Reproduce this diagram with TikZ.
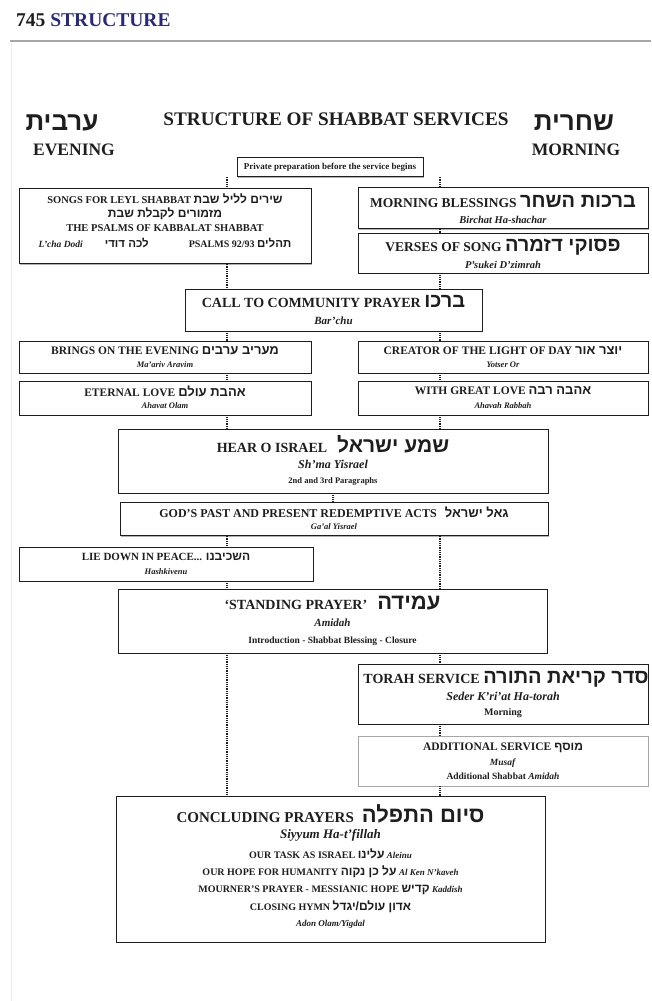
\documentclass[tikz,border=0pt]{standalone}
\usepackage{fontspec}
\setmainfont{Liberation Serif}
\newfontfamily\hebfont[Script=Hebrew]{Liberation Sans}
\usetikzlibrary{shadows}
\TeXXeTstate=1
\definecolor{navy}{RGB}{40,40,125}
\definecolor{ink}{RGB}{30,30,30}
\newcommand{\fsz}[1]{\fontsize{#1}{#1}\selectfont}
\newcommand{\hebtxt}[2][13]{{\fontsize{#1}{#1}\hebfont\bfseries\beginR #2\endR}}
\begin{document}
\begin{tikzpicture}[x=1pt,y=-1pt,
	every node/.style={font=\bfseries,text=ink,inner sep=0pt},
	box/.style={draw=ink,line width=0.7pt,fill=white,
		drop shadow={shadow xshift=1.3pt,shadow yshift=-1.3pt,fill=gray!60,opacity=1}},
	link/.style={draw=ink,line width=2.4pt,dash pattern=on 1pt off 0.8pt}]
	\useasboundingbox (0,0) rectangle (651,1001);
	% page head
	\node[anchor=west] at (16,20) (pagehead) {\fsz{19.5}745 \textcolor{navy}{STRUCTURE}};
	\draw[gray!70,line width=2.5pt] (10,41) -- (651,41);
	\draw[gray!15,line width=0.8pt] (11,43) -- (11,1001);
	% headings
	\node at (62,123) (arvit) {\hebtxt[26]{ערבית}};
	\node at (74,150) (evening) {\fsz{17.5}EVENING};
	\node at (336,119) (title) {\fsz{19.2}STRUCTURE OF SHABBAT SERVICES};
	\node at (574,123) (shacharit) {\hebtxt[26]{שחרית}};
	\node at (576,150) (morning) {\fsz{17.5}MORNING};
	\coordinate (L) at (227,0);
	\coordinate (R) at (440,0);
	\coordinate (M) at (333,0);
	\node[box,minimum width=186pt,minimum height=19pt] at (330,167) (prep) {\fsz{9}Private preparation before the service begins};
	% evening column
	\node[box,minimum width=292pt,minimum height=75pt] at (165,226) (songs) {};
	\node at (165,199) (songs1) {\fsz{10.5}SONGS FOR LEYL SHABBAT \hebtxt[12]{שירים לליל שבת}};
	\node at (165,214) (songs2) {\hebtxt[12]{מזמורים לקבלת שבת}};
	\node at (165,228) (songs3) {\fsz{10.5}THE PSALMS OF KABBALAT SHABBAT};
	\node at (165,243) (songs4) {{\fsz{9.5}\textit{L'cha Dodi}}\hspace{22pt}\hebtxt[11.5]{לכה דודי}\hspace{40pt}{\fsz{10}PSALMS 92/93} \hebtxt[11.5]{תהלים}};
	% morning column
	\node[box,minimum width=290pt,minimum height=41pt] at (503,208) (blessings) {};
	\node at (503,202) (blessings1) {\fsz{13.5}MORNING BLESSINGS \hebtxt[20]{ברכות השחר}};
	\node at (503,220) (blessings2) {\fsz{10.5}\textit{Birchat Ha-shachar}};
	\node[box,minimum width=290pt,minimum height=40pt] at (503,253) (verses) {};
	\node at (503,247) (verses1) {\fsz{13.5}VERSES OF SONG \hebtxt[20]{פסוקי דזמרה}};
	\node at (503,265) (verses2) {\fsz{10.5}\textit{P'sukei D'zimrah}};
	% both
	\node[box,minimum width=297pt,minimum height=42pt] at (333.5,310) (call) {};
	\node at (333.5,302) (call1) {\fsz{14}CALL TO COMMUNITY PRAYER \hebtxt[20]{ברכו}};
	\node at (333.5,321) (call2) {\fsz{11}\textit{Bar'chu}};
	\node[box,minimum width=292pt,minimum height=32pt] at (165,357) (brings) {};
	\node at (165,351) (brings1) {\fsz{11.5}BRINGS ON THE EVENING \hebtxt{מעריב ערבים}};
	\node at (165,365) (brings2) {\fsz{8.5}\textit{Ma'ariv Aravim}};
	\node[box,minimum width=290pt,minimum height=32pt] at (503,357) (creator) {};
	\node at (503,351) (creator1) {\fsz{11.5}CREATOR OF THE LIGHT OF DAY \hebtxt{יוצר אור}};
	\node at (503,365) (creator2) {\fsz{8.5}\textit{Yotser Or}};
	\node[box,minimum width=292pt,minimum height=34pt] at (165,398) (eternal) {};
	\node at (165,391) (eternal1) {\fsz{11.5}ETERNAL LOVE \hebtxt{אהבת עולם}};
	\node at (165,406) (eternal2) {\fsz{8.5}\textit{Ahavat Olam}};
	\node[box,minimum width=290pt,minimum height=34pt] at (503,398) (greatlove) {};
	\node at (503,391) (greatlove1) {\fsz{11.5}WITH GREAT LOVE \hebtxt{אהבה רבה}};
	\node at (503,406) (greatlove2) {\fsz{8.5}\textit{Ahavah Rabbah}};
	\node[box,minimum width=430pt,minimum height=64pt] at (333,461) (hear) {};
	\node at (333,444) (hear1) {\fsz{14}HEAR O ISRAEL\hspace{10pt}\hebtxt[21]{שמע ישראל}};
	\node at (333,464) (hear2) {\fsz{12}\textit{Sh'ma Yisrael}};
	\node at (333,481) (hear3) {\fsz{8.5}2nd and 3rd Paragraphs};
	\node[box,minimum width=428pt,minimum height=33pt] at (334,519) (godsacts) {};
	\node at (334,512) (godsacts1) {\fsz{12}GOD'S PAST AND PRESENT REDEMPTIVE ACTS\hspace{8pt}\hebtxt{גאל ישראל}};
	\node at (334,527) (godsacts2) {\fsz{8.5}\textit{Ga'al Yisrael}};
	\node[box,minimum width=294pt,minimum height=34pt] at (166,564) (liedown) {};
	\node at (166,557) (liedown1) {\fsz{11}LIE DOWN IN PEACE... \hebtxt[12]{השכיבנו}};
	\node at (166,572) (liedown2) {\fsz{8.5}\textit{Hashkivenu}};
	\node[box,minimum width=429pt,minimum height=64pt] at (332.5,621) (standing) {};
	\node at (332.5,603) (standing1) {\fsz{14}`STANDING PRAYER'\hspace{10pt}\hebtxt[22]{עמידה}};
	\node at (332.5,623) (standing2) {\fsz{11}\textit{Amidah}};
	\node at (332.5,641) (standing3) {\fsz{9.5}Introduction - Shabbat Blessing - Closure};
	% morning only
	\node[box,minimum width=290pt,minimum height=60pt] at (503,694) (torah) {};
	\node at (506,679) (torah1) {\fsz{14}TORAH SERVICE \hebtxt[20]{סדר קריאת התורה}};
	\node at (503,696) (torah2) {\fsz{12}\textit{Seder K'ri'at Ha-torah}};
	\node at (503,713) (torah3) {\fsz{10}Morning};
	\node[box,draw=gray!70,minimum width=290pt,minimum height=50pt] at (503,761) (musaf) {};
	\node at (503,748) (musaf1) {\fsz{11.5}ADDITIONAL SERVICE \hebtxt[12]{מוסף}};
	\node at (503,763) (musaf2) {\fsz{9.5}\textit{Musaf}};
	\node at (503,776) (musaf3) {\fsz{9.5}Additional Shabbat \textit{Amidah}};
	% end
	\node[box,minimum width=429pt,minimum height=146pt] at (330.5,869) (concluding) {};
	\node at (330.5,814) (concluding1) {\fsz{15}CONCLUDING PRAYERS\hspace{8pt}\hebtxt[22]{סיום התפלה}};
	\node at (330.5,835) (concluding2) {\fsz{13}\textit{Siyyum Ha-t'fillah}};
	\node at (330.5,854) (concluding3) {\fsz{10}OUR TASK AS ISRAEL \hebtxt[12]{עלינו} {\fsz{9}\textit{Aleinu}}};
	\node at (330.5,872) (concluding4) {\fsz{10}OUR HOPE FOR HUMANITY \hebtxt[12]{על כן נקוה} {\fsz{9}\textit{Al Ken N'kaveh}}};
	\node at (330.5,890) (concluding5) {\fsz{10}MOURNER'S PRAYER - MESSIANIC HOPE \hebtxt[12]{קדיש} {\fsz{9}\textit{Kaddish}}};
	\node at (330.5,907) (concluding6) {\fsz{10}CLOSING HYMN \hebtxt[12]{אדון עולם/יגדל}};
	\node at (330.5,924) (concluding7) {\fsz{9}\textit{Adon Olam/Yigdal}};
	% links
	\draw[link] (prep.south -| L) -- (songs.north -| L);
	\draw[link] (prep.south -| R) -- (blessings.north -| R);
	\draw[link] (blessings.south -| R) -- (verses.north -| R);
	\draw[link] (songs.south -| L) -- (call.north -| L);
	\draw[link] (verses.south -| R) -- (call.north -| R);
	\draw[link] (call.south -| L) -- (brings.north -| L);
	\draw[link] (call.south -| R) -- (creator.north -| R);
	\draw[link] (brings.south -| L) -- (eternal.north -| L);
	\draw[link] (creator.south -| R) -- (greatlove.north -| R);
	\draw[link] (eternal.south -| L) -- (hear.north -| L);
	\draw[link] (greatlove.south -| R) -- (hear.north -| R);
	\draw[link] (hear.south -| M) -- (godsacts.north -| M);
	\draw[link] (godsacts.south -| L) -- (liedown.north -| L);
	\draw[link] (godsacts.south -| R) -- (standing.north -| R);
	\draw[link] (liedown.south -| L) -- (standing.north -| L);
	\draw[link] (standing.south -| L) -- (concluding.north -| L);
	\draw[link] (standing.south -| R) -- (torah.north -| R);
	\draw[link] (torah.south -| R) -- (musaf.north -| R);
	\draw[link] (musaf.south -| R) -- (concluding.north -| R);
\end{tikzpicture}
\end{document}
